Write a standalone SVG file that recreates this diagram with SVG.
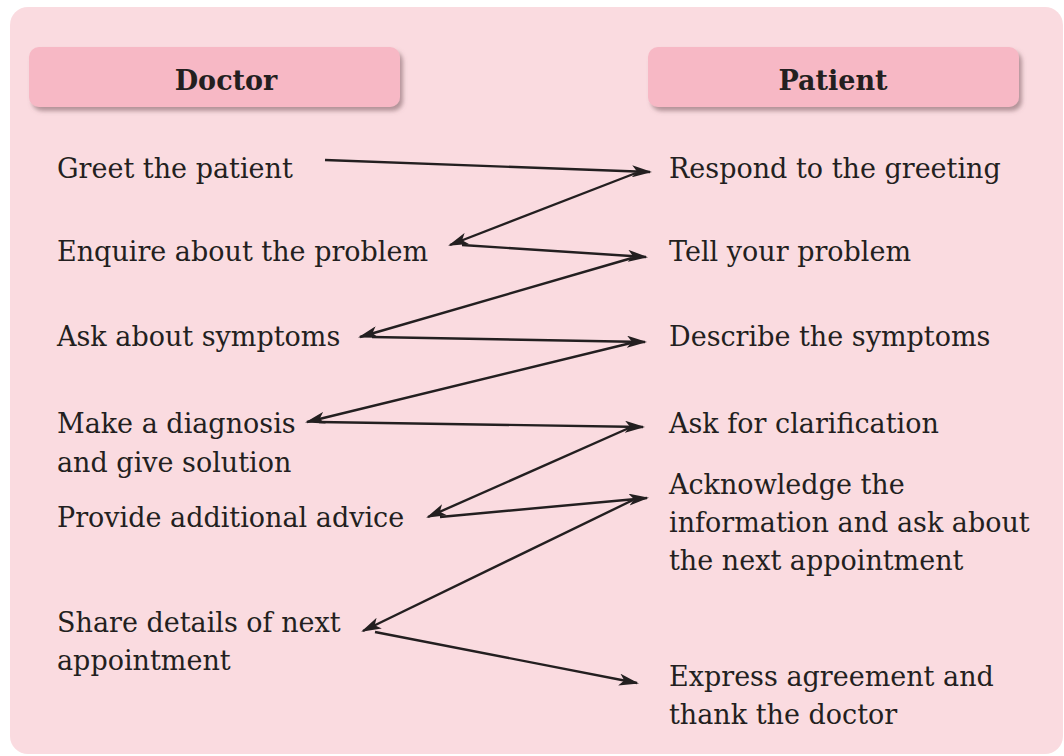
<svg xmlns="http://www.w3.org/2000/svg" width="1064" height="756" viewBox="0 0 1064 756">
  <style>
    .t { font-family: "DejaVu Serif", "Liberation Serif", serif; font-size: 27px; fill: #231F20; }
    .h { font-family: "DejaVu Serif", "Liberation Serif", serif; font-size: 27px; font-weight: bold; fill: #231F20; text-anchor: middle; }
    .hdr { fill: #F7B8C5; filter: url(#sh); }
    .c { stroke: #231F20; stroke-width: 2.4; fill: none; marker-end: url(#ah); }
  </style>
  <defs>
    <filter id="sh" x="-10%" y="-20%" width="120%" height="160%">
      <feDropShadow dx="3" dy="4" stdDeviation="2" flood-color="#7a5a60" flood-opacity="0.55"/>
    </filter>
    <marker id="ah" viewBox="0 0 20 12" refX="18" refY="6" markerWidth="20" markerHeight="12" markerUnits="userSpaceOnUse" orient="auto">
      <path d="M0,0 L20,6 L0,12 L5,6 Z" fill="#231F20"/>
    </marker>
  </defs>
  <rect id="panel" x="10" y="7" width="1053" height="747" rx="18" fill="#FADBE0"/>
  <g id="header-doctor">
    <rect class="hdr" x="29" y="47" width="371" height="60" rx="10"/>
    <text class="h" x="226" y="90">Doctor</text>
  </g>
  <g id="header-patient">
    <rect class="hdr" x="648" y="47" width="371" height="60" rx="10"/>
    <text class="h" x="833" y="90">Patient</text>
  </g>
  <g id="d1"><text class="t" x="57" y="178">Greet the patient</text></g>
  <g id="d2"><text class="t" x="57" y="261">Enquire about the problem</text></g>
  <g id="d3"><text class="t" x="57" y="346">Ask about symptoms</text></g>
  <g id="d4"><text class="t" x="57" y="433">Make a diagnosis</text><text class="t" x="57" y="472">and give solution</text></g>
  <g id="d5"><text class="t" x="57" y="527">Provide additional advice</text></g>
  <g id="d6"><text class="t" x="57" y="632">Share details of next</text><text class="t" x="57" y="670">appointment</text></g>
  <g id="p1"><text class="t" x="669" y="178">Respond to the greeting</text></g>
  <g id="p2"><text class="t" x="669" y="261">Tell your problem</text></g>
  <g id="p3"><text class="t" x="669" y="346">Describe the symptoms</text></g>
  <g id="p4"><text class="t" x="669" y="433">Ask for clarification</text></g>
  <g id="p5"><text class="t" x="669" y="494">Acknowledge the</text><text class="t" x="669" y="532">information and ask about</text><text class="t" x="669" y="570">the next appointment</text></g>
  <g id="p6"><text class="t" x="669" y="686">Express agreement and</text><text class="t" x="669" y="724">thank the doctor</text></g>
  <g id="connectors">
    <line class="c" x1="325" y1="160" x2="650" y2="172"/>
    <line class="c" x1="636" y1="173" x2="450" y2="245"/>
    <line class="c" x1="462" y1="245" x2="646" y2="257"/>
    <line class="c" x1="632" y1="258" x2="360" y2="337"/>
    <line class="c" x1="372" y1="337" x2="645" y2="342"/>
    <line class="c" x1="631" y1="343" x2="307" y2="422"/>
    <line class="c" x1="319" y1="422" x2="643" y2="427"/>
    <line class="c" x1="629" y1="428" x2="428" y2="517"/>
    <line class="c" x1="440" y1="517" x2="647" y2="498"/>
    <line class="c" x1="633" y1="500" x2="363" y2="631"/>
    <line class="c" x1="375" y1="632" x2="637" y2="683"/>
  </g>
</svg>
